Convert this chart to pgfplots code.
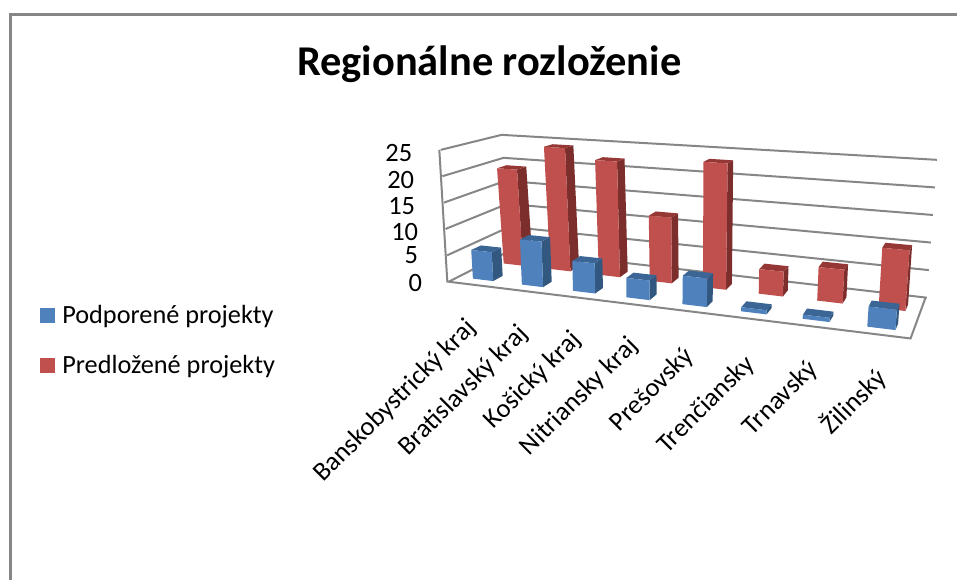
\documentclass[border=0pt]{standalone}
\usepackage{fontspec}
\setmainfont{Carlito}
\usepackage{pgfplots}
\pgfplotsset{compat=1.18}
\definecolor{bluef}{HTML}{4F81BD}
\definecolor{bluet}{HTML}{3A6594}
\definecolor{blues}{HTML}{33587F}
\definecolor{redf}{HTML}{C0504D}
\definecolor{redt}{HTML}{953835}
\definecolor{reds}{HTML}{7C2E2C}
\definecolor{gridc}{HTML}{868686}
% one face of a 3D bar: #1 colour, #2 category index, #3 depth, #4 value, #5 corners (c d t), #6 x shift
\newcommand{\face}[6]{\addplot[forget plot,fill=#1,draw=none] table[row sep=\\,
  x expr={#6+projx(warps(#2+0.5+\thisrow{c}*0.21),#3+\thisrow{d}*0.16,\thisrow{t}*#4)},
  y expr={projy(warps(#2+0.5+\thisrow{c}*0.21),#3+\thisrow{d}*0.16,\thisrow{t}*#4)}]
  {c d t\\ #5};}
\newcommand{\bardd}[7]{%
  \face{#6}{#1}{#2}{#3}{1 0 0\\ 1 1 0\\ 1 1 1\\ 1 0 1\\}{#7}
  \face{#5}{#1}{#2}{#3}{-1 0 1\\ 1 0 1\\ 1 1 1\\ -1 1 1\\}{#7}
  \face{#4}{#1}{#2}{#3}{-1 0 0\\ 1 0 0\\ 1 0 1\\ -1 0 1\\}{#7}}
\newcommand{\redbar}[2]{\bardd{#1}{0.62}{#2}{redf}{redt}{reds}{3}}
\newcommand{\bluebar}[2]{\bardd{#1}{0.15}{#2}{bluef}{bluet}{blues}{1}}
\newcommand{\gridl}[1]{\addplot[forget plot,gridc,line width=2pt] table[row sep=\\,
  x expr={projx(warps(\thisrow{u}),\thisrow{v},#1)},
  y expr={projy(warps(\thisrow{u}),\thisrow{v},#1)}]
  {u v\\ 0 0\\ 0 1\\ 8 1\\};}
\begin{document}
\begin{tikzpicture}
\begin{axis}[
  scale only axis,width=958pt,height=581pt,
  xmin=0,xmax=958,ymin=0,ymax=581,y dir=reverse,
  axis lines=none,clip=false,
  declare function={
    warps(\u)=0.83*(\u/8)/(1-0.17*(\u/8))+0.003;
    projx(\s,\v,\w)=((1-\v)*(448+464*\s)+\v*(511+416*\s))*(1-\w/25)+((1-\v)*(440+484*\s)+\v*(501+436*\s))*(\w/25);
    projy(\s,\v,\w)=((1-\v)*(282+57*\s)+\v*(250+48*\s))*(1-\w/25)+((1-\v)*(150+31*\s)+\v*(135+25*\s))*(\w/25);
  },
  legend style={draw=none,fill=none,at={(axis cs:37,341)},anchor=west,
    font=\fontsize{26.3}{28}\selectfont,row sep=26pt,
    nodes={inner xsep=1pt}},
  legend cell align=left,
  legend image code/.code={\fill[#1] (0pt,-7pt) rectangle (14pt,7pt);\path[draw=none] (0pt,0pt) -- (21pt,0pt);},
]
\path (axis cs:0,0) -- (axis cs:958,581);
% frame
\addplot[forget plot,gridc,line width=3pt] coordinates {(10.5,581) (10.5,14.5) (958,14.5)};
% walls and floor
\gridl{5}\gridl{10}\gridl{15}\gridl{20}\gridl{25}
\gridl{0}
\addplot[forget plot,gridc,line width=2pt] coordinates {(440,150) (448,282) (912,339) (927,298)};
% Predložené projekty
\redbar{0}{19.5}
\redbar{1}{24.5}
\redbar{2}{22.5}
\redbar{3}{12.5}
\redbar{4}{23.5}
\redbar{5}{4.5}
\redbar{6}{6}
\redbar{7}{10.5}
% Podporené projekty
\bluebar{0}{5.5}
\bluebar{1}{8.5}
\bluebar{2}{5.5}
\bluebar{3}{3.5}
\bluebar{4}{5}
\bluebar{5}{0.7}
\bluebar{6}{0.7}
\bluebar{7}{3.3}
\addlegendimage{bluef}\addlegendentry{Podporené projekty}
\addlegendimage{redf}\addlegendentry{Predložené projekty}
\node[font=\fontsize{42.5}{44}\bfseries] at (axis cs:490,64) {Regionálne rozloženie};
\foreach \v/\x/\y in {25/413/153,20/415/180,15/416/206,10/419/232,5/419/256,0/423/283}{
  \edef\temp{\noexpand\node[anchor=east,inner sep=0pt,font=\noexpand\fontsize{26.5}{28}\noexpand\selectfont] at (axis cs:\x,\y) {\v};}
  \temp
}
\foreach \t/\x/\y in {Banskobystrický kraj/473/325,Bratislavský kraj/525/331,Košický kraj/578/337,Nitriansky kraj/635/343,Prešovský/691/353,Trenčiansky/752/361,Trnavský/815/366,Žilinský/883/374}{
  \edef\temp{\noexpand\node[anchor=east,rotate=45,inner sep=0pt,font=\noexpand\fontsize{26.5}{28}\noexpand\selectfont] at (axis cs:\x,\y) {\t};}
  \temp
}
\end{axis}
\end{tikzpicture}
\end{document}
